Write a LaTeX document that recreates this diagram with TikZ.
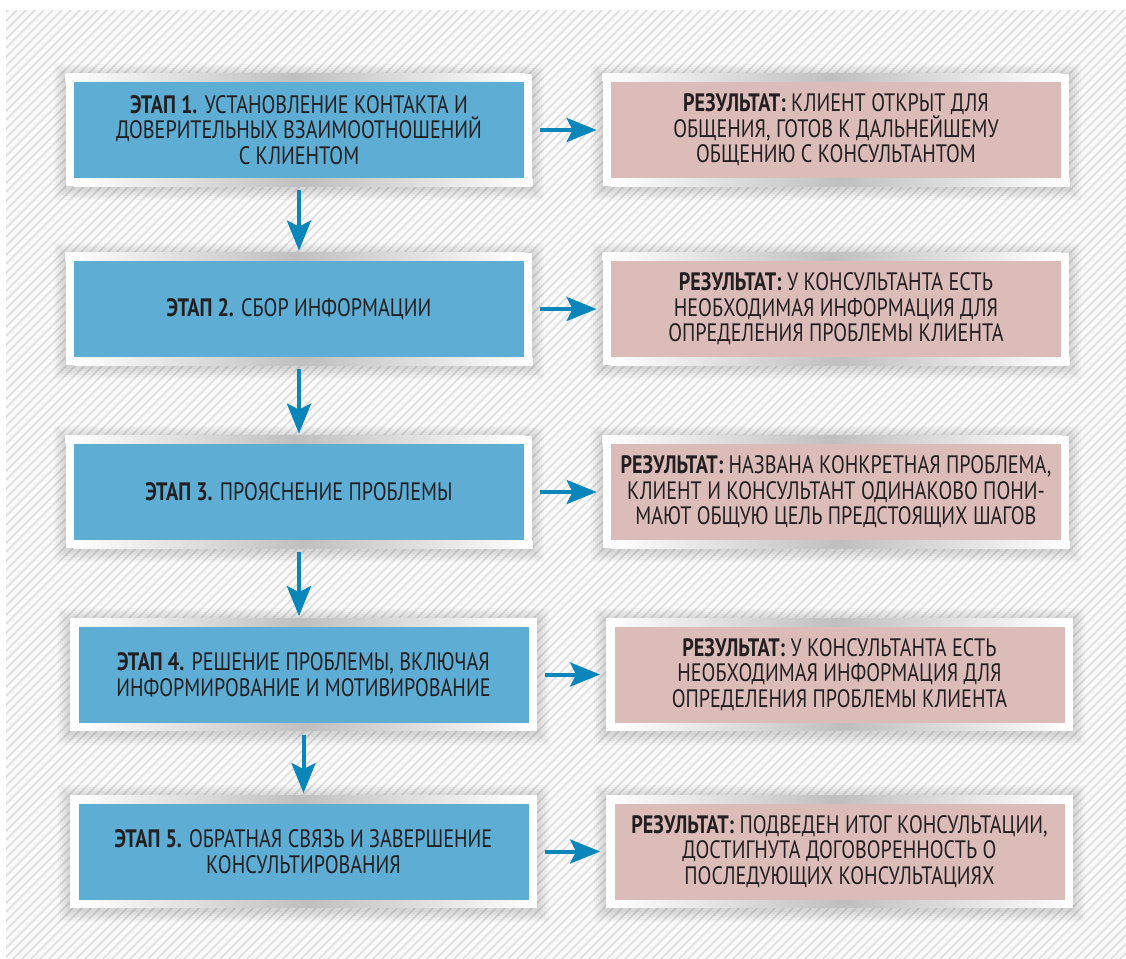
\documentclass[tikz,border=0pt]{standalone}
\usepackage{fontspec}
\setmainfont[FakeStretch=0.8]{PT Sans}
\usetikzlibrary{arrows.meta}

\definecolor{etapblue}{HTML}{5EADD4}
\definecolor{itogpink}{HTML}{DCBCB9}
\definecolor{arrowblue}{HTML}{0A86BB}
\definecolor{textgrey}{HTML}{231F20}

\pgfdeclarelayer{stripes}
\pgfdeclarelayer{frames}
\pgfsetlayers{stripes,frames,main}

\begin{document}
\begin{tikzpicture}[x=0.5pt,y=-0.5pt]
  \tikzstyle{etap}=[fill=etapblue, text=textgrey, minimum width=225pt, minimum height=48pt, inner sep=0pt, align=center, font=\fontsize{12.6}{12.8}\selectfont];
  \tikzstyle{itog}=[etap, fill=itogpink];
  \tikzstyle{fleche}=[draw=arrowblue, line width=2pt, -{Stealth[length=15pt,width=12pt,inset=3pt]}];

  \useasboundingbox (0,0) rectangle (1126,959);

  \node[etap] (E1) at (299,130) {\textbf{ЭТАП 1.} УСТАНОВЛЕНИЕ КОНТАКТА И\\ДОВЕРИТЕЛЬНЫХ ВЗАИМООТНОШЕНИЙ\\С КЛИЕНТОМ};
  \node[itog] (R1) at (836,130) {\textbf{РЕЗУЛЬТАТ:} КЛИЕНТ ОТКРЫТ ДЛЯ\\ОБЩЕНИЯ, ГОТОВ К ДАЛЬНЕЙШЕМУ\\ОБЩЕНИЮ С КОНСУЛЬТАНТОМ};
  \node[etap] (E2) at (299,309) {\textbf{ЭТАП 2.} СБОР ИНФОРМАЦИИ};
  \node[itog] (R2) at (836,309) {\textbf{РЕЗУЛЬТАТ:} У КОНСУЛЬТАНТА ЕСТЬ\\НЕОБХОДИМАЯ ИНФОРМАЦИЯ ДЛЯ\\ОПРЕДЕЛЕНИЯ ПРОБЛЕМЫ КЛИЕНТА};
  \node[etap] (E3) at (299,492) {\textbf{ЭТАП 3.} ПРОЯСНЕНИЕ ПРОБЛЕМЫ};
  \node[itog] (R3) at (836,492) {\textbf{РЕЗУЛЬТАТ:} НАЗВАНА КОНКРЕТНАЯ ПРОБЛЕМА,\\КЛИЕНТ И КОНСУЛЬТАНТ ОДИНАКОВО ПОНИ-\\МАЮТ ОБЩУЮ ЦЕЛЬ ПРЕДСТОЯЩИХ ШАГОВ};
  \node[etap] (E4) at (303.5,674.5) {\textbf{ЭТАП 4.} РЕШЕНИЕ ПРОБЛЕМЫ, ВКЛЮЧАЯ\\ИНФОРМИРОВАНИЕ И МОТИВИРОВАНИЕ};
  \node[itog] (R4) at (839.5,674.5) {\textbf{РЕЗУЛЬТАТ:} У КОНСУЛЬТАНТА ЕСТЬ\\НЕОБХОДИМАЯ ИНФОРМАЦИЯ ДЛЯ\\ОПРЕДЕЛЕНИЯ ПРОБЛЕМЫ КЛИЕНТА};
  \node[etap] (E5) at (303.5,851.5) {\textbf{ЭТАП 5.} ОБРАТНАЯ СВЯЗЬ И ЗАВЕРШЕНИЕ\\КОНСУЛЬТИРОВАНИЯ};
  \node[itog] (R5) at (839.5,851.5) {\textbf{РЕЗУЛЬТАТ:} ПОДВЕДЕН ИТОГ КОНСУЛЬТАЦИИ,\\ДОСТИГНУТА ДОГОВОРЕННОСТЬ О\\ПОСЛЕДУЮЩИХ КОНСУЛЬТАЦИЯХ};

  % stages down
  \draw[fleche, shorten <=6pt, shorten >=5pt] (E1.south) -- (E1.south |- E2.north);
  \draw[fleche, shorten <=6pt, shorten >=5pt] (E2.south) -- (E2.south |- E3.north);
  \draw[fleche, shorten <=6pt, shorten >=5pt] (E3.south) -- (E3.south |- E4.north);
  \draw[fleche, shorten <=6pt, shorten >=5pt] (E4.south) -- (E4.south |- E5.north);

  % results
  \foreach \i in {1,...,5}
    \draw[fleche, shorten <=8pt, shorten >=7pt] (E\i.east) -- (R\i.west);

  % hatched background
  \begin{pgfonlayer}{stripes}
    \fill[black!2] (6,10) rectangle (1126,959);
    \begin{scope}
      \clip (6,10) rectangle (1126,959);
      \foreach \x in {-950,-941,...,1130}
        \draw[black!13, line width=0.75pt] (\x,959) -- ++(949,-949);
    \end{scope}
  \end{pgfonlayer}

  % white frames
  \begin{pgfonlayer}{frames}
    \foreach \n in {E1,E2,E3,E4,E5,R1,R2,R3,R4,R5}
    {
      \foreach \k in {5,6,...,10}
        \fill[black, opacity=0.025] ([shift={(-\k pt,\k pt-1pt)}]\n.north west) rectangle ([shift={(\k pt,-\k pt-1pt)}]\n.south east);
      \fill[white] ([shift={(-4pt,4pt)}]\n.north west) rectangle ([shift={(4pt,-4pt)}]\n.south east);
      \shade[left color=white, right color=white, middle color=black!25]
        ([shift={(-4pt,4pt)}]\n.north west) rectangle (\n.north east);
      \shade[left color=white, right color=white, middle color=black!25]
        (\n.south west) rectangle ([shift={(4pt,-4pt)}]\n.south east);
    }
  \end{pgfonlayer}
\end{tikzpicture}
\end{document}
